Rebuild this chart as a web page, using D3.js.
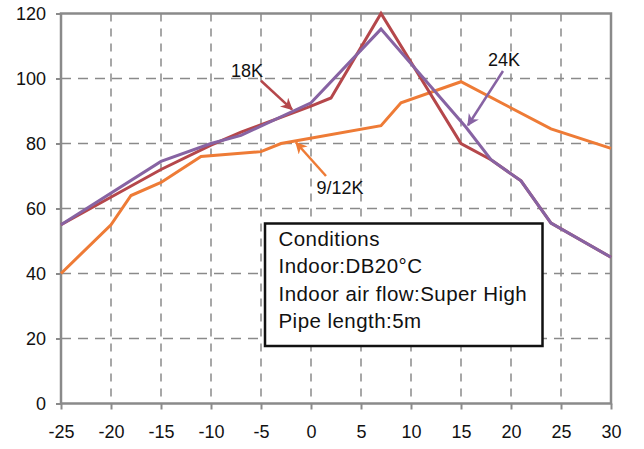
<!DOCTYPE html>
<meta charset="utf-8">
<script src="https://d3js.org/d3.v7.min.js"></script>
<style>
  body { margin: 0; background: #fff; }
  text { font-family: "Liberation Sans", Arial, sans-serif; }
</style>
<svg id="chart" width="644" height="449"></svg>
<script>

// outdoor temperature ticks and value ticks
var xTicks = [-25, -20, -15, -10, -5, 0, 5, 10, 15, 20, 25, 30];
var yTicks = [0, 20, 40, 60, 80, 100, 120];

// 18K curve
var temp18K = [-25, -15, -10, -7, 0, 2, 7, 15, 18, 21, 24, 30];
var val18K  = [55, 72, 79.5, 83.5, 91.5, 94, 120, 80, 75, 68.5, 55.5, 45];

// 24K curve
var temp24K = [-25, -15, -10, -7, 0, 7, 15.5, 18, 21, 24, 30];
var val24K  = [55, 74.5, 80, 82.5, 92.5, 115.2, 85, 75, 68.5, 55.5, 45];

// 9/12K curve
var temp912K = [-25, -20, -18, -15, -11, -5, -3, 7, 9, 15, 24, 30];
var val912K  = [40, 55, 64, 68, 76, 77.5, 80, 85.5, 92.5, 99, 84.5, 78.5];

// conditions box text
var conditions = ["Conditions", "Indoor:DB20\u00B0C", "Indoor air flow:Super High", "Pipe length:5m"];

var svg = d3.select("#chart");
var mLeft = 61, mRight = 611, mTop = 13.5, mBottom = 403.5;

var x = d3.scaleLinear().domain([-25, 30]).range([mLeft, mRight]);
var y = d3.scaleLinear().domain([0, 120]).range([mBottom, mTop]);

var gridColor = "#8a8a8a";
var fmt = function(d) { return String(d); };   // plain hyphen minus, like the original

// grid
var grid = svg.append("g");
grid.selectAll(".vg")
  .data(xTicks.slice(1, -1))
  .enter().append("line")
    .attr("x1", d => x(d)).attr("x2", d => x(d))
    .attr("y1", mTop).attr("y2", mBottom)
    .attr("stroke", gridColor)
    .attr("stroke-width", 1.5)
    .attr("stroke-dasharray", "8,7");
grid.selectAll(".hg")
  .data(yTicks.slice(1, -1))
  .enter().append("line")
    .attr("x1", mLeft).attr("x2", mRight)
    .attr("y1", d => y(d)).attr("y2", d => y(d))
    .attr("stroke", gridColor)
    .attr("stroke-width", 1.5)
    .attr("stroke-dasharray", "10,7");

// frame
svg.append("rect")
  .attr("x", mLeft).attr("y", mTop)
  .attr("width", mRight - mLeft).attr("height", mBottom - mTop)
  .attr("fill", "none")
  .attr("stroke", gridColor)
  .attr("stroke-width", 2.5);

// axes
var xAxis = svg.append("g")
  .attr("transform", "translate(0," + mBottom + ")")
  .call(d3.axisBottom(x).tickValues(xTicks).tickSize(6).tickFormat(fmt));
var yAxis = svg.append("g")
  .attr("transform", "translate(" + mLeft + ",0)")
  .call(d3.axisLeft(y).tickValues(yTicks).tickSize(5).tickFormat(fmt));

[xAxis, yAxis].forEach(function(g) {
  g.select(".domain").remove();
  g.selectAll(".tick line").attr("stroke", gridColor).attr("stroke-width", 2);
  g.selectAll(".tick text")
    .attr("fill", "#111")
    .style("font-size", "18px")
    .style("font-family", "'Liberation Sans', Arial, sans-serif");
});
xAxis.selectAll(".tick text").attr("y", 34.5).attr("dy", 0);
yAxis.selectAll(".tick text").attr("x", -15).attr("dy", "0.35em");

// conditions box
var box = svg.append("g");
box.append("rect")
  .attr("x", 265).attr("y", 223.5)
  .attr("width", 277.5).attr("height", 122.5)
  .attr("fill", "#fff")
  .attr("stroke", "#111")
  .attr("stroke-width", 2.5);
box.selectAll("text")
  .data(conditions)
  .enter().append("text")
    .attr("x", 278.5)
    .attr("y", (d, i) => 245.5 + i * 27.6)
    .attr("fill", "#111")
    .style("font-size", "20.5px")
    .style("letter-spacing", "0.45px")
    .text(d => d);

// curves
var line = d3.line()
  .x(d => x(d[0]))
  .y(d => y(d[1]));

var curves = [
  { t: temp912K, v: val912K, color: "#ee7b36" },
  { t: temp18K, v: val18K, color: "#b5474b" },
  { t: temp24K, v: val24K, color: "#8763a3" }
];

svg.append("g")
  .selectAll("path")
  .data(curves)
  .enter().append("path")
    .attr("d", d => line(d3.zip(d.t, d.v)))
    .attr("fill", "none")
    .attr("stroke", d => d.color)
    .attr("stroke-width", 3)
    .attr("stroke-linejoin", "miter");

// annotations with arrows
var notes = [
  { label: "18K",   tx: -6.4, ty: 100.4, from: [-5, 99.3],  to: [-1.9, 90.5], color: "#b5474b" },
  { label: "24K",   tx: 19.3, ty: 103.8, from: [19.2, 102.3], to: [15.7, 85.6], color: "#8763a3" },
  { label: "9/12K", tx: 2.9,  ty: 64.4,  from: [1.5, 70],   to: [-1.5, 80.3], color: "#ee7b36" }
];

var defs = svg.append("defs");
notes.forEach(function(n, i) {
  defs.append("marker")
    .attr("id", "arrow" + i)
    .attr("viewBox", "0 0 10 10")
    .attr("refX", 9).attr("refY", 5)
    .attr("markerWidth", 14).attr("markerHeight", 12)
    .attr("markerUnits", "userSpaceOnUse")
    .attr("orient", "auto")
    .append("path")
      .attr("d", "M0,0 L10,5 L0,10 L3,5 Z")
      .attr("fill", n.color);
});

var ann = svg.append("g");
ann.selectAll("line")
  .data(notes)
  .enter().append("line")
    .attr("x1", d => x(d.from[0])).attr("y1", d => y(d.from[1]))
    .attr("x2", d => x(d.to[0])).attr("y2", d => y(d.to[1]))
    .attr("stroke", d => d.color)
    .attr("stroke-width", 2.5)
    .attr("marker-end", (d, i) => "url(#arrow" + i + ")");
ann.selectAll("text")
  .data(notes)
  .enter().append("text")
    .attr("x", d => x(d.tx)).attr("y", d => y(d.ty))
    .attr("text-anchor", "middle")
    .attr("fill", "#111")
    .style("font-size", "18px")
    .text(d => d.label);

</script>
